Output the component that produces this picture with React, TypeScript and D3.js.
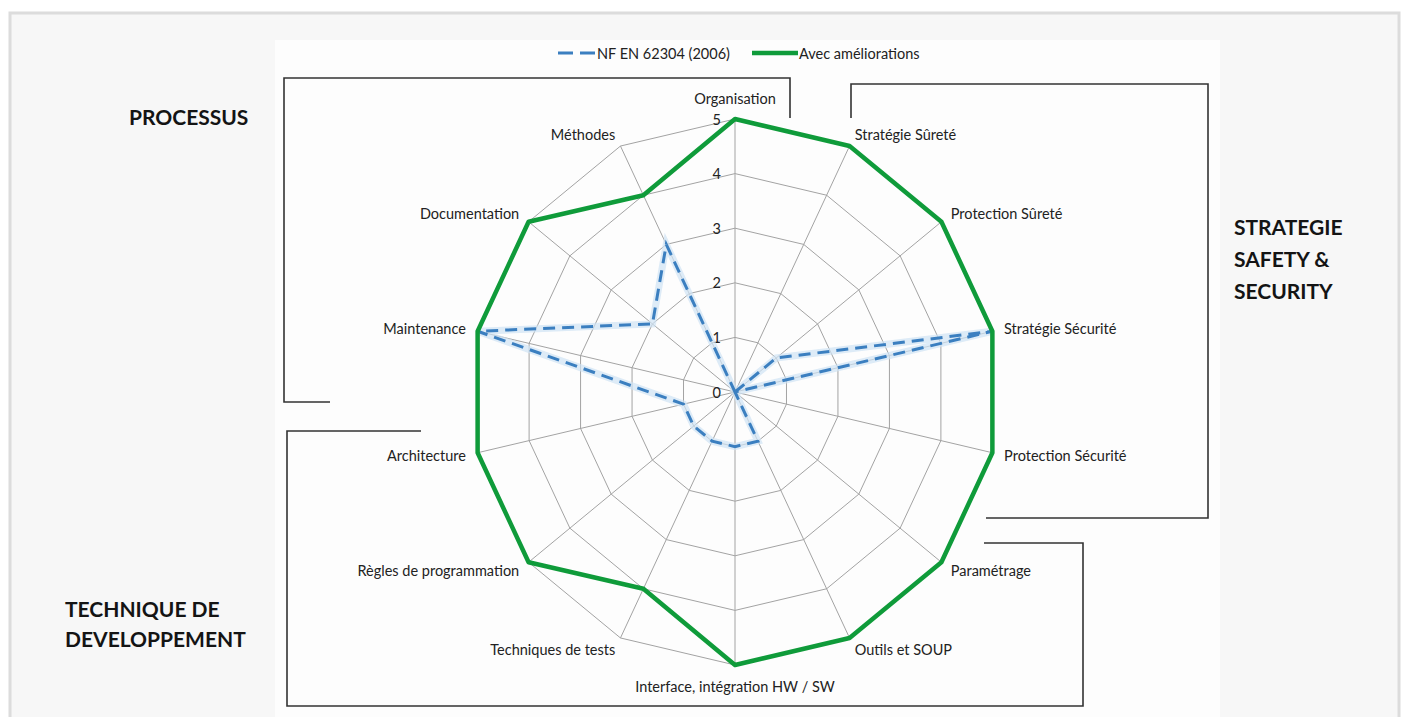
import * as d3 from 'd3';

// axes, clockwise from the top
const AXES = [
  'Organisation',
  'Stratégie Sûreté',
  'Protection Sûreté',
  'Stratégie Sécurité',
  'Protection Sécurité',
  'Paramétrage',
  'Outils et SOUP',
  'Interface, intégration HW / SW',
  'Techniques de tests',
  'Règles de programmation',
  'Architecture',
  'Maintenance',
  'Documentation',
  'Méthodes',
];
const NORM_2006 = [0, 0, 1, 5, 0, 0, 1, 1, 1, 1, 1, 5, 2, 3];
const IMPROVED = [5, 5, 5, 5, 5, 5, 5, 5, 4, 5, 5, 5, 5, 4];
const TICKS = [0, 1, 2, 3, 4, 5];
const SERIES_NAMES = ['NF EN 62304 (2006)', 'Avec améliorations'];

const W = 1407;
const H = 717;
const cx = 735;
const cy = 392;
const BLUE = '#3b7fc0';
const GREEN = '#0f9b3a';
const FONT = 'Lato, "Open Sans", sans-serif';
const FS = 14.5;

const rx = d3.scaleLinear().domain([0, 5]).range([0, 264]);
const ry = d3.scaleLinear().domain([0, 5]).range([0, 273]);
const angle = d3.scaleLinear().domain([0, AXES.length]).range([0, 2 * Math.PI]);

const pt = (i: number, v: number): [number, number] => {
  const a = angle(i);
  return [cx + rx(v) * Math.sin(a), cy - ry(v) * Math.cos(a)];
};

const closed = d3.line<[number, number]>().curve(d3.curveLinearClosed);

const Title = ({ x, y, lines, gap }: { x: number; y: number; lines: string[]; gap: number }) => (
  <text x={x} y={y} fontFamily={FONT} fontWeight={700} fontSize={21} fill="#141414">
    {lines.map((l, i) => (
      <tspan key={i} x={x} dy={i === 0 ? 0 : gap}>{l}</tspan>
    ))}
  </text>
);

export default function App() {
  const rings = TICKS.filter((t) => t > 0).map((t) => closed(AXES.map((_, i) => pt(i, t))) || '');
  const normPath = closed(NORM_2006.map((v, i) => pt(i, v))) || '';
  const impPath = closed(IMPROVED.map((v, i) => pt(i, v))) || '';

  return (
    <svg width={W} height={H} style={{ position: 'absolute', left: 0, top: 0 }}>
      <rect x={0} y={0} width={W} height={H} fill="#ffffff" />
      <rect x={10} y={13} width={1389} height={720} fill="#f7f7f7" stroke="#dcdcdc" strokeWidth={3} />
      <rect x={275} y={40} width={945} height={677} fill="#fdfdfd" />

      {/* brackets */}
      <g fill="none" stroke="#333" strokeWidth={1.6}>
        <path d="M330,402 H284 V78 H790 V118" />
        <path d="M851,118 V84 H1208 V518 H986" />
        <path d="M421,431 H287 V706 H1083 V543 H984" />
      </g>

      {/* grid */}
      <g fill="none" stroke="#a3a3a3" strokeWidth={1}>
        {rings.map((d, i) => <path key={i} d={d} />)}
        {AXES.map((_, i) => {
          const [x, y] = pt(i, 5);
          return <line key={i} x1={cx} y1={cy} x2={x} y2={y} />;
        })}
      </g>

      {/* tick labels */}
      {TICKS.map((t) => (
        <text key={t} x={cx - 14} y={cy - ry(t)} textAnchor="end" dominantBaseline="central"
          fontFamily={FONT} fontSize={FS} fill="#222">{t}</text>
      ))}

      {/* series */}
      <path d={normPath} fill="none" stroke="#cfe3f4" strokeWidth={7} strokeOpacity={0.7} />
      <path d={normPath} fill="none" stroke={BLUE} strokeWidth={3} strokeDasharray="12 7" />
      <path d={impPath} fill="none" stroke={GREEN} strokeWidth={4.5} strokeLinejoin="round" />

      {/* axis labels */}
      {AXES.map((name, i) => {
        const a = angle(i);
        const s = Math.sin(a);
        const c = Math.cos(a);
        const [x, y] = pt(i, 5);
        const anchor = s > 0.1 ? 'start' : s < -0.1 ? 'end' : 'middle';
        const extra = Math.abs(c) > 0.95 ? 8 : 0;
        return (
          <text key={name} x={x + s * 12} y={y - c * (13 + extra)} textAnchor={anchor}
            dominantBaseline="central" fontFamily={FONT} fontSize={FS} fill="#222">{name}</text>
        );
      })}

      {/* legend */}
      <line x1={558} x2={595} y1={53} y2={53} stroke={BLUE} strokeWidth={3} strokeDasharray="15 7" />
      <text x={597} y={53} dominantBaseline="central" fontFamily={FONT} fontSize={FS} fill="#222">{SERIES_NAMES[0]}</text>
      <line x1={752} x2={798} y1={53} y2={53} stroke={GREEN} strokeWidth={4.5} />
      <text x={799} y={53} dominantBaseline="central" fontFamily={FONT} fontSize={FS} fill="#222">{SERIES_NAMES[1]}</text>

      {/* group titles */}
      <Title x={129} y={125} lines={['PROCESSUS']} gap={0} />
      <Title x={1234} y={235} lines={['STRATEGIE', 'SAFETY &', 'SECURITY']} gap={32} />
      <Title x={65} y={617} lines={['TECHNIQUE DE', 'DEVELOPPEMENT']} gap={30} />
    </svg>
  );
}
